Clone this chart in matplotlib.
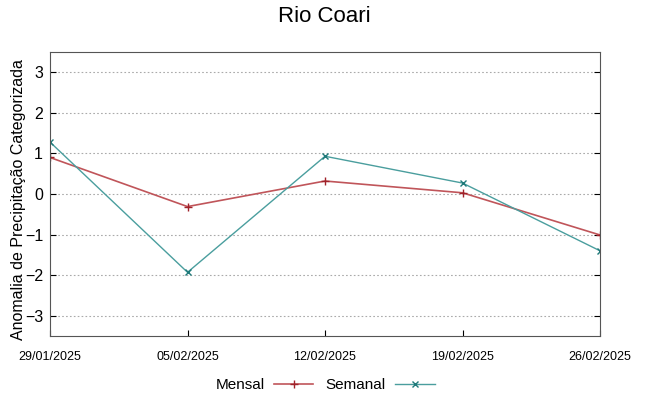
import matplotlib
matplotlib.use("Agg")
import matplotlib.pyplot as plt

# dados
datas = ["29/01/2025", "05/02/2025", "12/02/2025", "19/02/2025", "26/02/2025"]
mensal = [0.90, -0.31, 0.32, 0.03, -1.01]
semanal = [1.28, -1.93, 0.93, 0.27, -1.40]
yticks = [-3, -2, -1, 0, 1, 2, 3]

plt.rcParams['font.family'] = ['Liberation Sans', 'DejaVu Sans']

fig = plt.figure(figsize=(6.49, 3.96), dpi=100)
ax = fig.add_axes([50 / 649, 1 - 336 / 396, 550 / 649, 284 / 396])

x = list(range(len(datas)))
ax.plot(x, mensal, color="#c0555a", lw=1.2, marker="+", ms=6, mew=1.0,
        mec="#a0222a", label="Mensal")
ax.plot(x, semanal, color="#4a9e9e", lw=1.0, marker="x", ms=5, mew=1.0,
        mec="#1f7a7a", label="Semanal")

ax.set_xlim(0, len(datas) - 1)
ax.set_ylim(-3.5, 3.5)
ax.set_xticks(x)
ax.set_xticklabels(datas, fontsize=9)
ax.set_yticks(yticks)
ax.tick_params(axis="y", labelsize=11.5, direction="in", right=True, length=4, pad=5)
ax.tick_params(axis="x", direction="in", length=4, pad=11)
ax.grid(axis="y", color="#aaaaaa", ls=(0, (1.5, 2)), lw=0.8)
for s in ax.spines.values():
    s.set_color("#555555")

ax.set_ylabel("Anomalia de Precipitação Categorizada", fontsize=11.5)
ax.yaxis.set_label_coords(-0.043, 0.48)
fig.suptitle("Rio Coari", fontsize=16, y=0.985)

ax.legend(loc="upper center", bbox_to_anchor=(0.5, -0.1), ncol=2, frameon=False,
          markerfirst=False, fontsize=11, handlelength=2.6, handletextpad=0.6,
          columnspacing=0.8)

fig.savefig("out.png", dpi=100)
